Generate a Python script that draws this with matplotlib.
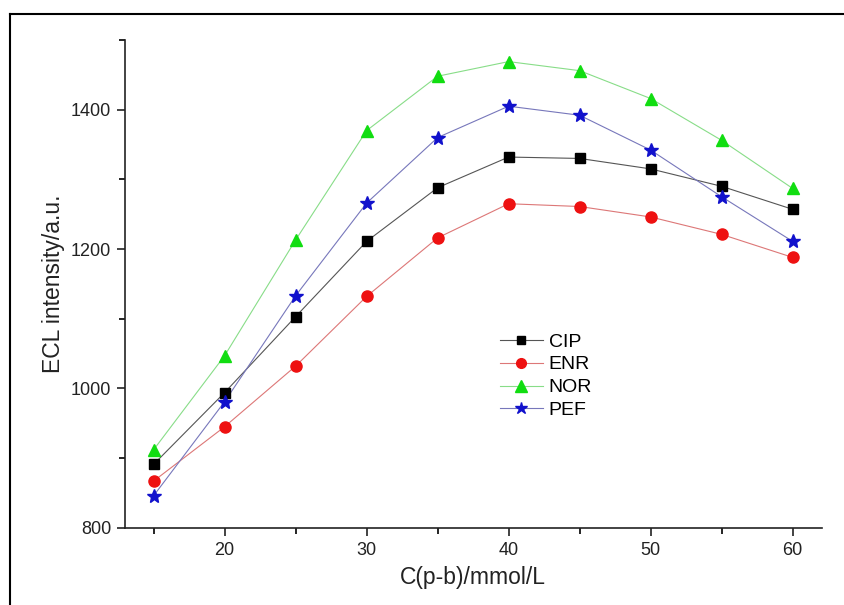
import matplotlib
matplotlib.use("Agg")
import matplotlib.pyplot as plt
from matplotlib.lines import Line2D
from matplotlib.ticker import MultipleLocator

plt.rcParams['font.family'] = ['Liberation Sans', 'DejaVu Sans']

conc = [15, 20, 25, 30, 35, 40, 45, 50, 55, 60]
cip = [891, 994, 1103, 1211, 1288, 1332, 1330, 1315, 1290, 1257]
enr = [867, 945, 1032, 1132, 1216, 1265, 1261, 1246, 1221, 1188]
nor = [912, 1047, 1213, 1370, 1448, 1469, 1456, 1416, 1356, 1287]
pef = [846, 981, 1133, 1266, 1360, 1405, 1392, 1342, 1275, 1211]
labels = ['CIP', 'ENR', 'NOR', 'PEF']

W, H = 844, 605
fig = plt.figure(figsize=(W / 100, H / 100), dpi=100)
ax = fig.add_axes([125 / W, 1 - 527.7 / H, (821.7 - 125) / W, (527.7 - 40) / H])

styles = [
    dict(marker='s', color='#000000', lc='#555555', ms=7),
    dict(marker='o', color='#ee1111', lc='#dd7777', ms=8),
    dict(marker='^', color='#11dd11', lc='#88dd88', ms=9),
    dict(marker='*', color='#1111cc', lc='#7777bb', ms=10),
]
for y, lab, st in zip([cip, enr, nor, pef], labels, styles):
    ax.plot(conc, y, color=st['lc'], lw=0.8, zorder=2)
    ax.plot(conc, y, linestyle='none', marker=st['marker'], ms=st['ms'],
            mfc=st['color'], mec=st['color'], zorder=3)

handles = [Line2D([0], [0], color=st['lc'], lw=0.8, marker=st['marker'],
                  ms=st['ms'] - 1, mfc=st['color'], mec=st['color'])
           for st in styles]
ax.legend(handles, labels, loc='upper left',
          bbox_to_anchor=((500 - 125) / (821.7 - 125), (527.7 - 333) / (527.7 - 40)),
          frameon=False, handlelength=2.2, handletextpad=0.3,
          labelspacing=0.27, borderpad=0, borderaxespad=0,
          prop={'size': 14})

ax.set_xlim(12.98, 62.05)
ax.set_ylim(800, 1500)
ax.xaxis.set_major_locator(MultipleLocator(10))
ax.xaxis.set_minor_locator(MultipleLocator(5))
ax.yaxis.set_major_locator(MultipleLocator(200))
ax.yaxis.set_minor_locator(MultipleLocator(100))
ax.set_yticks([800, 1000, 1200, 1400])
ax.tick_params(which='major', direction='out', length=6, width=1.2, labelsize=13,
               colors='#222222', pad=4)
ax.tick_params(which='minor', direction='out', length=4, width=1.2)
for s in ['top', 'right']:
    ax.spines[s].set_visible(False)
for s in ['left', 'bottom']:
    ax.spines[s].set_linewidth(1.2)
    ax.spines[s].set_color('#222222')

ax.set_xlabel('C(p-b)/mmol/L', fontsize=16.5, color='#222222', labelpad=5)
ax.set_ylabel('ECL intensity/a.u.', fontsize=16.5, color='#222222', labelpad=4)

fig.add_artist(Line2D([10 / W, 10 / W], [0, 1 - 14 / H], color='black', lw=1.5,
                      transform=fig.transFigure))
fig.add_artist(Line2D([10 / W, 1], [1 - 14 / H, 1 - 14 / H], color='black', lw=1.5,
                      transform=fig.transFigure))

fig.savefig('out.png', dpi=100)
